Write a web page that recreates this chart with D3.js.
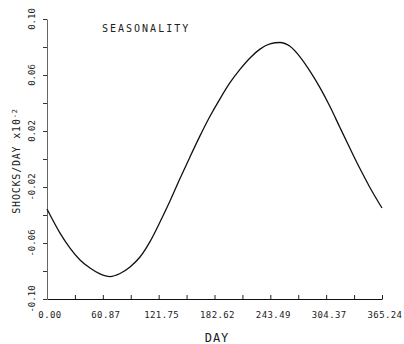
<!DOCTYPE html>
<html>
<head>
<meta charset="utf-8">
<script src="https://cdn.jsdelivr.net/npm/d3@7"></script>
<style>
  body { margin: 0; background: #fff; }
  svg { display: block; }
  text { font-family: "DejaVu Sans Mono", monospace; fill: #222; }
</style>
</head>
<body>
<script>
// day of year vs seasonal shock rate (x 10^-2)
var days = [0, 14.2, 25.1, 36.0, 46.9, 57.8, 68.7, 79.6, 90.5, 101.4, 112.3,
  123.2, 134.1, 145.0, 155.9, 166.8, 177.7, 188.6, 199.5, 210.4, 221.3, 232.2,
  243.1, 254.0, 264.9, 275.8, 286.7, 297.6, 308.5, 319.4, 330.4, 341.3, 352.2, 365.24];
var values = [-0.0357, -0.0529, -0.0636, -0.0721, -0.0779, -0.0821, -0.0840,
  -0.0818, -0.0771, -0.0700, -0.0590, -0.0450, -0.0300, -0.0140, 0.0015, 0.0165,
  0.0305, 0.0430, 0.0545, 0.0640, 0.0722, 0.0785, 0.0822, 0.0832, 0.0805, 0.0730,
  0.0628, 0.0510, 0.0375, 0.0225, 0.0075, -0.0070, -0.0205, -0.0350];

var xTicks = [0, 60.87, 121.75, 182.62, 243.49, 304.37, 365.24];
var xTickLabels = ["0.00", "60.87", "121.75", "182.62", "243.49", "304.37", "365.24"];
var yTicks = [-0.10, -0.06, -0.02, 0.02, 0.06, 0.10];
var yTickLabels = ["-0.10", "-0.06", "-0.02", "0.02", "0.06", "0.10"];

var width = 404, height = 344;

var x = d3.scaleLinear().domain([0, 365.24]).range([47, 382]);
var y = d3.scaleLinear().domain([-0.10, 0.10]).range([299, 19]);

var svg = d3.select("body").append("svg")
    .attr("width", width)
    .attr("height", height);

// minor ticks half way between the labelled ones
var xMinor = d3.range(xTicks.length - 1).map(function(i) { return (xTicks[i] + xTicks[i + 1]) / 2; });
var yMinor = d3.range(yTicks.length - 1).map(function(i) { return (yTicks[i] + yTicks[i + 1]) / 2; });

// x axis
var gx = svg.append("g")
    .attr("transform", "translate(0," + y(-0.10) + ")")
    .call(d3.axisBottom(x).tickValues(xTicks.concat(xMinor)).tickSizeInner(-4).tickSizeOuter(0).tickFormat(""));
gx.select(".domain").attr("stroke", "#111").attr("stroke-width", 1.2);
gx.selectAll(".tick line").attr("stroke", "#222");

svg.selectAll(".xlab")
    .data(xTicks)
    .enter().append("text")
    .attr("class", "xlab")
    .attr("x", function(d) { return x(d) + 3; })
    .attr("y", 318)
    .attr("text-anchor", "middle")
    .attr("font-size", "9px")
    .attr("letter-spacing", "0.4px")
    .text(function(d, i) { return xTickLabels[i]; });

// y axis
var gy = svg.append("g")
    .attr("transform", "translate(" + x(0) + ",0)")
    .call(d3.axisLeft(y).tickValues(yTicks.concat(yMinor)).tickSizeInner(4).tickSizeOuter(0).tickFormat(""));
gy.select(".domain").attr("stroke", "#666").attr("stroke-width", 1);
gy.selectAll(".tick line").attr("stroke", "#333");

svg.selectAll(".ylab")
    .data(yTicks)
    .enter().append("text")
    .attr("class", "ylab")
    .attr("transform", function(d) { return "translate(35," + y(d) + ") rotate(-90)"; })
    .attr("text-anchor", "middle")
    .attr("font-size", "9px")
    .text(function(d, i) { return yTickLabels[i]; });

// curve
var line = d3.line()
    .x(function(d, i) { return x(days[i]); })
    .y(function(d) { return y(d); })
    .curve(d3.curveMonotoneX);

svg.append("path")
    .attr("d", line(values))
    .attr("fill", "none")
    .attr("stroke", "#111")
    .attr("stroke-width", 1.3);

// titles
svg.append("text")
    .attr("x", 102)
    .attr("y", 32)
    .attr("font-size", "10px")
    .attr("letter-spacing", "2px")
    .text("SEASONALITY");

svg.append("text")
    .attr("x", 217)
    .attr("y", 342)
    .attr("text-anchor", "middle")
    .attr("font-size", "12px")
    .attr("letter-spacing", "1px")
    .text("DAY");

var yt = svg.append("text")
    .attr("transform", "translate(20,161) rotate(-90)")
    .attr("text-anchor", "middle")
    .attr("font-size", "10px")
    .attr("letter-spacing", "0.8px");
yt.append("tspan").text("SHOCKS/DAY  x10");
yt.append("tspan").attr("dy", "-0.5em").attr("font-size", "7px").text("-2");
</script>
</body>
</html>
